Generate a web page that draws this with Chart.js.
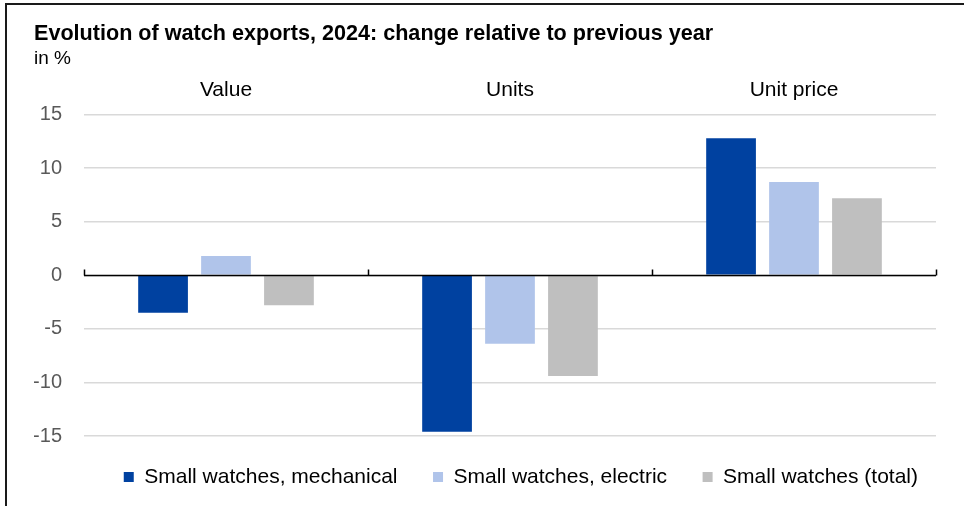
<!DOCTYPE html>
<html>
<head>
<meta charset="utf-8">
<script src="https://cdn.jsdelivr.net/npm/chart.js@4/dist/chart.umd.min.js"></script>
<style>
    html, body { margin: 0; padding: 0; background: #fff; }
    #wrap { position: relative; width: 964px; height: 506px; overflow: hidden; }
    #frame {
        position: absolute; left: 5px; top: 3px; right: -10px; bottom: -10px;
        border-top: 2px solid #1a1a1a; border-left: 2px solid #1a1a1a;
        pointer-events: none;
    }
    canvas { position: absolute; left: 0; top: 0; }
</style>
</head>
<body>
<div id="wrap">
    <canvas id="ExportsChart" width="964" height="506"></canvas>
    <div id="frame"></div>
</div>
<script>
// Change relative to previous year, in %
var categories = ['Value', 'Units', 'Unit price'];
var mechanical = [-3.5, -14.6, 12.8];
var electric = [1.8, -6.4, 8.7];
var total = [-2.8, -9.4, 7.2];
var seriesNames = ['Small watches, mechanical', 'Small watches, electric', 'Small watches (total)'];
var yTicks = [-15, -10, -5, 0, 5, 10, 15];

var FONT = "'Liberation Sans', Arial, sans-serif";

// black zero line with small tick marks between the groups
var zeroAxis = {
    id: 'zeroAxis',
    afterDatasetsDraw: function (chart) {
        var x = chart.scales.x, y = chart.scales.y, ctx = chart.ctx;
        var y0 = Math.round(y.getPixelForValue(0)) + 0.5;
        ctx.save();
        ctx.strokeStyle = '#000';
        ctx.lineWidth = 1.5;
        ctx.beginPath();
        ctx.moveTo(chart.chartArea.left, y0);
        ctx.lineTo(chart.chartArea.right, y0);
        for (var i = 0; i <= categories.length; i++) {
            var px = Math.round(x.getPixelForValue(i - 0.5)) + 0.5;
            ctx.moveTo(px, y0);
            ctx.lineTo(px, y0 - 6);
        }
        ctx.stroke();
        ctx.restore();
    }
};

new Chart(document.getElementById('ExportsChart').getContext('2d'), {
    type: 'bar',
    data: {
        labels: categories,
        datasets: [
            { label: seriesNames[0], data: mechanical, backgroundColor: '#0041a0' },
            { label: seriesNames[1], data: electric, backgroundColor: '#b0c4ea' },
            { label: seriesNames[2], data: total, backgroundColor: '#bfbfbf' }
        ]
    },
    options: {
        responsive: false,
        animation: false,
        layout: { padding: { top: 22, left: 34, right: 28, bottom: 8.5 } },
        datasets: {
            bar: { categoryPercentage: 0.665, barPercentage: 0.79, borderWidth: 0 }
        },
        plugins: {
            title: {
                display: true,
                align: 'start',
                text: 'Evolution of watch exports, 2024: change relative to previous year',
                color: '#000',
                font: { family: FONT, size: 21.6, weight: 'bold', lineHeight: 1.1 },
                padding: { top: 0, bottom: 1.4 }
            },
            subtitle: {
                display: true,
                align: 'start',
                text: 'in %',
                color: '#000',
                font: { family: FONT, size: 19, lineHeight: 1.2 },
                padding: { top: 0, bottom: 0 }
            },
            legend: {
                position: 'bottom',
                align: 'end',
                labels: {
                    font: { family: FONT, size: 21 },
                    color: '#000',
                    boxWidth: 10,
                    boxHeight: 10,
                    padding: 18,
                    generateLabels: function (chart) {
                        var items = Chart.defaults.plugins.legend.labels.generateLabels(chart);
                        items.forEach(function (it, i) {
                            it.lineWidth = 0;
                            if (i < items.length - 1) it.text = it.text + '   ';
                        });
                        return items;
                    }
                }
            },
            tooltip: { enabled: false }
        },
        scales: {
            x: {
                position: 'top',
                grid: { display: false, drawTicks: false },
                border: { display: false },
                ticks: { color: '#000', font: { family: FONT, size: 21 }, padding: 12 },
                afterFit: function (s) { s.height = 44.6; }
            },
            // empty axis that only keeps the legend clear of the plot
            xGap: {
                type: 'category',
                position: 'bottom',
                labels: categories,
                grid: { display: false, drawTicks: false },
                border: { display: false },
                ticks: { display: false },
                afterFit: function (s) { s.height = 12.5; }
            },
            y: {
                min: -15,
                max: 15,
                afterBuildTicks: function (s) {
                    s.ticks = yTicks.map(function (v) { return { value: v }; });
                },
                grid: { color: '#d9d9d9', lineWidth: 1.5, drawTicks: false },
                border: { display: false },
                ticks: { color: '#595959', font: { family: FONT, size: 20 }, padding: 22 },
                afterFit: function (s) { s.width = 50; }
            }
        }
    },
    plugins: [zeroAxis]
});
</script>
</body>
</html>
